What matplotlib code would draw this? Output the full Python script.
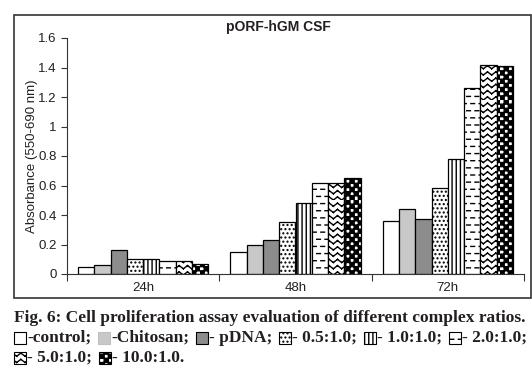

# cell proliferation bars – pORF-hGM CSF, 8 formulations x 3 time points
import warnings
import numpy as np
import matplotlib
matplotlib.use('Agg')
import matplotlib.pyplot as plt
from matplotlib import hatch as mhatch
from matplotlib.patches import Rectangle
from matplotlib.path import Path
from matplotlib.ticker import FixedLocator, FormatStrFormatter

warnings.filterwarnings('ignore')

# ─────────────────────────── data ────────────────────────────
time_points = ['24h', '48h', '72h']
series      = ['control', 'Chitosan', 'pDNA', '0.5:1.0', '1.0:1.0',
               '2.0:1.0', '5.0:1.0', '10.0:1.0']
absorbance  = {
    'control':  [0.05, 0.15, 0.36],
    'Chitosan': [0.06, 0.20, 0.44],
    'pDNA':     [0.16, 0.23, 0.37],
    '0.5:1.0':  [0.10, 0.35, 0.58],
    '1.0:1.0':  [0.10, 0.48, 0.78],
    '2.0:1.0':  [0.09, 0.62, 1.26],
    '5.0:1.0':  [0.09, 0.62, 1.42],
    '10.0:1.0': [0.07, 0.65, 1.41],
}
y_ticks     = [0, 0.2, 0.4, 0.6, 0.8, 1.0, 1.2, 1.4, 1.6]

title       = 'pORF-hGM CSF'
y_label     = 'Absorbance (550-690 nm)'
caption_1   = 'Fig. 6: Cell proliferation assay evaluation of different complex ratios.'

# ─────────────────────────── styles ──────────────────────────
styles = {
    'control':  dict(fc='white',   hatch=None),
    'Chitosan': dict(fc='#c8c8c8', hatch=None),
    'pDNA':     dict(fc='#8c8c8c', hatch=None),
    '0.5:1.0':  dict(fc='white',   hatch='....'),
    '1.0:1.0':  dict(fc='white',   hatch='||||'),
    '2.0:1.0':  dict(fc='white',   hatch='d'),
    '5.0:1.0':  dict(fc='white',   hatch='z'),
    '10.0:1.0': dict(fc='white',   hatch='c'),
}
TXT = '#231f20'


# ───────────────────── custom hatch patterns ─────────────────
class ExtraHatch(mhatch.HatchPatternBase):
    """'c' checkerboard, 'z' zigzag lines, 'd' staggered dashes"""
    def __init__(self, hatch, density):
        v, c = [], []
        if 'c' in hatch:
            n = 24
            for i in range(n):
                for j in range(n):
                    if (i + j) % 2 == 0:
                        x0, y0, s = i / n, j / n, 1 / n
                        v += [(x0, y0), (x0 + s, y0), (x0 + s, y0 + s),
                              (x0, y0 + s), (x0, y0)]
                        c += [Path.MOVETO, Path.LINETO, Path.LINETO,
                              Path.LINETO, Path.CLOSEPOLY]
        if 'z' in hatch:
            rows, peaks = 16, 12
            for r in range(rows):
                y0, h = r / rows, 0.5 / rows
                xs = np.linspace(0, 1, 2 * peaks + 1)
                for k in range(2 * peaks):
                    ya = y0 + (h if k % 2 else 0)
                    yb = y0 + (0 if k % 2 else h)
                    v += [(xs[k], ya), (xs[k + 1], yb)]
                    c += [Path.MOVETO, Path.LINETO]
        if 'd' in hatch:
            rows, dashes = 14, 12
            for r in range(rows):
                y0 = (r + 0.5) / rows
                off = 0.5 / dashes if r % 2 else 0
                for k in range(dashes):
                    xa = k / dashes + off
                    v += [(xa, y0), (xa + 0.45 / dashes, y0)]
                    c += [Path.MOVETO, Path.LINETO]
        self._v = np.array(v, float).reshape(-1, 2)
        self._c = np.array(c, Path.code_type)
        self.num_vertices = len(self._v)

    def set_vertices_and_codes(self, vertices, codes):
        vertices[:] = self._v
        codes[:] = self._c


mhatch._hatch_types.append(ExtraHatch)


# ─────────────────────────── plot ────────────────────────────
def plot():
    plt.rcParams.update({'font.family': 'Liberation Sans',
                         'hatch.linewidth': 1.0})
    W, H = 532, 375
    fig = plt.figure(figsize=(W / 100, H / 100), dpi=100)

    # outer frame around the chart
    fig.patches.append(Rectangle((14 / W, 1 - 298 / H), 517 / W, 283 / H,
                                 transform=fig.transFigure, fill=False,
                                 ec='#333333', lw=1.2))

    ax = fig.add_axes([67 / W, 1 - 274 / H, 457 / W, 236 / H])
    nser = len(series)
    width = 0.107
    x = np.arange(len(time_points)) + 0.5
    for i, name in enumerate(series):
        st = styles[name]
        ax.bar(x + (i - (nser - 1) / 2) * width, absorbance[name], width,
               color=st['fc'], hatch=st['hatch'], edgecolor='black', lw=0.9)

    ax.set_xlim(0, len(time_points))
    ax.set_ylim(0, 1.6)
    ax.xaxis.set_major_locator(FixedLocator(np.arange(len(time_points) + 1)))
    ax.xaxis.set_major_formatter(plt.NullFormatter())
    ax.xaxis.set_minor_locator(FixedLocator(x))
    ax.set_xticklabels(time_points, minor=True)
    ax.tick_params(axis='x', which='major', length=5, direction='out', color='#333333')
    ax.tick_params(axis='x', which='minor', length=0, pad=6, labelsize=9.5, labelcolor=TXT)
    ax.set_yticks(y_ticks)
    ax.yaxis.set_major_formatter(FormatStrFormatter('%g'))
    ax.tick_params(axis='y', length=4, labelsize=9.5, labelcolor=TXT, color='#333333')
    for s in ['top', 'right']:
        ax.spines[s].set_visible(False)
    for s in ['left', 'bottom']:
        ax.spines[s].set_color('#333333')
    ax.set_ylabel(y_label, fontsize=9.5, color=TXT, labelpad=0)

    fig.text(278 / W, 1 - 27 / H, title, ha='center', va='center',
             fontsize=10, fontweight='bold', color=TXT)

    # ── caption with inline legend swatches ──
    cap = dict(family='Liberation Serif', fontweight='bold', fontsize=12.5, color=TXT)
    fig.text(14 / W, 1 - 318 / H, caption_1, va='center', **cap)
    renderer = fig.canvas.get_renderer()

    def caption_line(ypix, items):
        xpix = 14
        for name, label in items:
            st = styles[name]
            sq = 12
            fig.patches.append(Rectangle((xpix / W, 1 - (ypix + sq / 2) / H),
                                         sq / W, sq / H, transform=fig.transFigure,
                                         fc=st['fc'], hatch=st['hatch'],
                                         ec='#c0c0c0' if name == 'Chitosan' else 'black',
                                         lw=0.8))
            t = fig.text((xpix + sq + 1) / W, 1 - ypix / H, label, va='center', **cap)
            xpix = t.get_window_extent(renderer).x1 + 7

    caption_line(338, [('control', '-control;'), ('Chitosan', '-Chitosan;'),
                       ('pDNA', '- pDNA;'), ('0.5:1.0', '- 0.5:1.0;'),
                       ('1.0:1.0', '- 1.0:1.0;'), ('2.0:1.0', '- 2.0:1.0;')])
    caption_line(358, [('5.0:1.0', '- 5.0:1.0;'), ('10.0:1.0', '- 10.0:1.0.')])

    fig.savefig('out.png', dpi=100)


if __name__ == '__main__':
    plot()
